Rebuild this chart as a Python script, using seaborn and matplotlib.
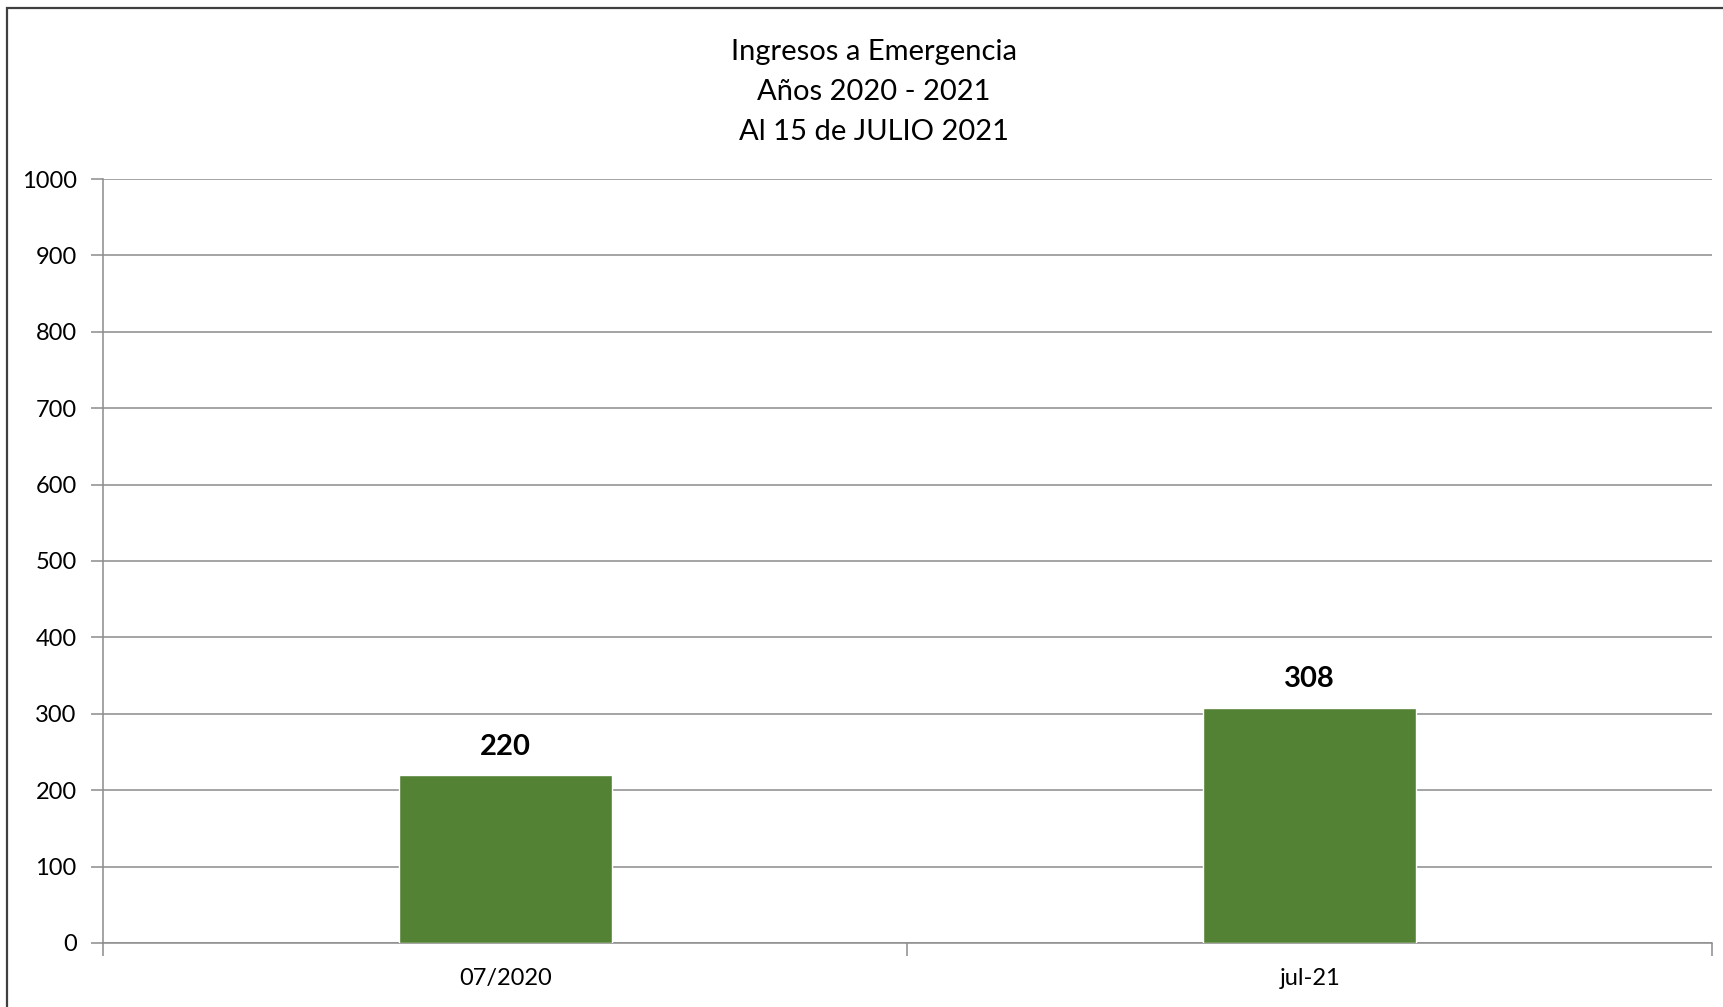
import pandas as pd
import seaborn as sns
import matplotlib.pyplot as plt
from matplotlib.patches import Rectangle

# Data
periodos = ["07/2020", "jul-21"]
ingresos = [220, 308]
y_ticks = [0, 100, 200, 300, 400, 500, 600, 700, 800, 900, 1000]

df = pd.DataFrame({"periodo": periodos, "ingresos": ingresos})

sns.set_style("white")
plt.rcParams["font.family"] = ["Lato", "DejaVu Sans"]

fig = plt.figure(figsize=(17.24, 10.07), dpi=100)
ax = fig.add_axes([0.0597, 0.0636, 0.9333, 0.7586])

sns.barplot(data=df, x="periodo", y="ingresos", color="#548235",
            saturation=1, width=0.265, ax=ax, zorder=3)

ax.set_ylim(0, 1000)
ax.set_xlim(-0.5, 1.5)
ax.set_yticks(y_ticks)
ax.grid(axis="y", color="#8c8c8c", linewidth=1.1, zorder=0)
ax.set_xlabel("")
ax.set_ylabel("")

for s in ["top", "right"]:
    ax.spines[s].set_visible(False)
for s in ["left", "bottom"]:
    ax.spines[s].set_color("#8c8c8c")
    ax.spines[s].set_linewidth(1.1)

ax.tick_params(axis="y", left=True, length=9, width=1.1, color="#8c8c8c",
               labelsize=17, pad=10, labelcolor="black")
ax.tick_params(axis="x", which="major", length=0, labelsize=17, pad=18,
               labelcolor="black")
ax.set_xticks([-0.5, 0.5, 1.5], minor=True)
ax.tick_params(axis="x", which="minor", bottom=True, length=9, width=1.1,
               color="#8c8c8c")

# value labels
for i, v in enumerate(ingresos):
    ax.annotate(str(v), (i, v), xytext=(0, 11), textcoords="offset points",
                ha="center", va="bottom", fontsize=21, fontweight="bold",
                color="black")

fig.text(0.507, 0.961, "Ingresos a Emergencia\nAños 2020 - 2021\nAl 15 de JULIO 2021",
         ha="center", va="top", fontsize=21, linespacing=1.66, color="black")

# chart frame (left and top edges visible)
fig.patches.append(Rectangle((0.004, -0.1), 1.2, 1.092, transform=fig.transFigure,
                             fill=False, edgecolor="#404040", linewidth=1.6))

fig.savefig("out.png", dpi=100)
